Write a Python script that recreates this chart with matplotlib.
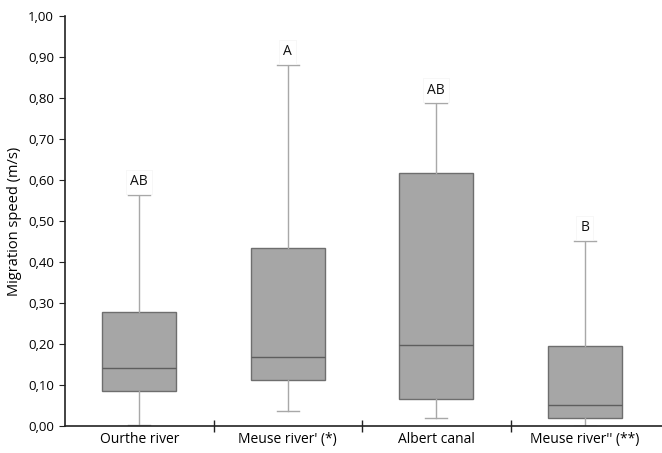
import matplotlib
matplotlib.use("Agg")
import matplotlib.pyplot as plt
from matplotlib.ticker import FixedLocator, FuncFormatter

categories = ["Ourthe river", "Meuse river' (*)", "Albert canal", "Meuse river'' (**)"]
whislo = [0.003, 0.037, 0.020, 0.000]
q1 = [0.086, 0.111, 0.066, 0.020]
med = [0.141, 0.168, 0.198, 0.051]
q3 = [0.278, 0.433, 0.616, 0.196]
whishi = [0.563, 0.880, 0.787, 0.451]
letters = ["AB", "A", "AB", "B"]

plt.rcParams['font.family'] = ['Open Sans', 'DejaVu Sans']

fig = plt.figure(figsize=(6.62, 4.53), dpi=100)
ax = fig.add_axes([65/662, 27/453, 597/662, 410/453])

stats = []
for i, c in enumerate(categories):
    stats.append(dict(label=c, whislo=whislo[i], q1=q1[i], med=med[i],
                      q3=q3[i], whishi=whishi[i], fliers=[]))
pos = list(range(len(categories)))
ax.bxp(stats, positions=pos, widths=0.5, patch_artist=True, showfliers=False,
       boxprops=dict(facecolor='#a6a6a6', edgecolor='#6e6e6e', linewidth=1.0),
       medianprops=dict(color='#5e5e5e', linewidth=1.0),
       whiskerprops=dict(color='#a8a8a8', linewidth=1.0),
       capprops=dict(color='#a8a8a8', linewidth=1.0),
       capwidths=0.15)

for i, l in enumerate(letters):
    ax.text(pos[i], whishi[i] + 0.014, l, ha='center', va='bottom', fontsize=10,
            color='#111111',
            bbox=dict(facecolor='white', edgecolor='#f4f4f4', pad=3, linewidth=0.5))

ax.set_xlim(-0.5, len(categories) - 0.5 + 0.02)
ax.set_ylim(0, 1.0)
ax.set_yticks([i / 10 for i in range(11)])
ax.yaxis.set_major_formatter(FuncFormatter(lambda v, p: f"{v:.2f}".replace('.', ',')))
ax.set_xticks(pos)
ax.set_xticklabels(categories, fontsize=10)
ax.tick_params(axis='x', length=0, pad=4)
ax.xaxis.set_minor_locator(FixedLocator([0.5, 1.5, 2.5]))
ax.tick_params(axis='x', which='minor', length=8, direction='inout', width=1.0, color='#222222')
ax.tick_params(axis='y', length=4, direction='out', labelsize=9.5, color='#222222', pad=4)
for s in ['top', 'right']:
    ax.spines[s].set_visible(False)
for s in ['left', 'bottom']:
    ax.spines[s].set_color('#222222')
    ax.spines[s].set_linewidth(1.2)
ax.set_ylabel("Migration speed (m/s)", fontsize=10.5, labelpad=4)

fig.savefig("out.png", dpi=100)
